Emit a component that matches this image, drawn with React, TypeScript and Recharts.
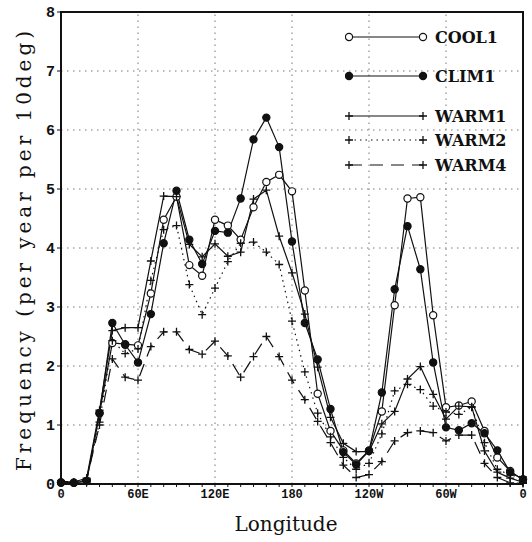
import { LineChart, Line, XAxis, YAxis, ReferenceLine, ReferenceArea, Legend, Label } from 'recharts'

const longitudes = [0, 10, 20, 30, 40, 50, 60, 70, 80, 90, 100, 110, 120, 130, 140, 150, 160, 170, 180,
  190, 200, 210, 220, 230, 240, 250, 260, 270, 280, 290, 300, 310, 320, 330, 340, 350, 360]

const cool1 = [0.03, 0.02, 0.05, 1.2, 2.39, 2.37, 2.35, 3.23, 4.48, 4.87, 3.71, 3.53, 4.48, 4.38, 4.14, 4.69, 5.12, 5.24, 4.96,
  3.28, 1.53, 0.9, 0.57, 0.35, 0.57, 1.23, 3.03, 4.84, 4.86, 2.86, 1.3, 1.33, 1.4, 0.9, 0.45, 0.22, 0.07]
const clim1 = [0.02, 0.02, 0.05, 1.2, 2.73, 2.36, 2.06, 2.88, 4.08, 4.97, 4.14, 3.73, 4.29, 4.26, 4.84, 5.84, 6.21, 5.71, 4.11,
  2.73, 2.11, 1.27, 0.54, 0.33, 0.56, 1.55, 3.3, 4.37, 3.64, 2.06, 0.96, 0.91, 1.03, 0.86, 0.57, 0.2, 0.08]
const warm1 = [0.05, 0.03, 0.1, 1.25, 2.6, 2.65, 2.65, 3.78, 4.88, 4.87, 4.06, 3.85, 4.07, 3.86, 3.93, 4.83, 4.98, 4.2, 3.58,
  2.88, 1.98, 1.13, 0.69, 0.55, 0.55, 1.02, 1.23, 1.78, 1.99, 1.52, 1.1, 1.32, 1.31, 0.56, 0.2, 0.1, 0.03]
const warm2 = [0.05, 0.03, 0.08, 1.05, 2.43, 2.21, 2.29, 3.45, 4.31, 4.38, 3.38, 2.87, 3.32, 3.77, 4.08, 4.1, 3.93, 3.72, 2.76,
  1.9, 1.2, 0.8, 0.45, 0.25, 0.35, 0.85, 1.58, 1.69, 1.6, 1.32, 1.22, 1.18, 1.3, 0.7, 0.25, 0.15, 0.12]
const warm4 = [0.03, 0.02, 0.08, 1.0, 2.12, 1.81, 1.76, 2.33, 2.58, 2.58, 2.28, 2.2, 2.42, 2.17, 1.81, 2.16, 2.5, 2.16, 1.76,
  1.43, 1.06, 0.7, 0.32, 0.11, 0.16, 0.38, 0.73, 0.87, 0.9, 0.87, 0.73, 0.83, 0.83, 0.35, 0.11, 0.02, 0.01]

const xMajorTicks = [0, 60, 120, 180, 240, 300, 360]
const xTickLabels = ['0', '60E', '120E', '180', '120W', '60W', '0']
const yTicks = [0, 1, 2, 3, 4, 5, 6, 7, 8]

const data = longitudes.map((lon, i) => ({
  lon, cool1: cool1[i], clim1: clim1[i], warm1: warm1[i], warm2: warm2[i], warm4: warm4[i],
}))

const INK = '#111'
const mono = '"Liberation Mono", "DejaVu Sans Mono", monospace'
const serif = '"DejaVu Serif", "Liberation Serif", serif'

type Marker = 'open' | 'filled' | 'plus'
const series: { key: string; name: string; marker: Marker; dash?: string }[] = [
  { key: 'cool1', name: 'COOL1', marker: 'open' },
  { key: 'clim1', name: 'CLIM1', marker: 'filled' },
  { key: 'warm1', name: 'WARM1', marker: 'plus' },
  { key: 'warm2', name: 'WARM2', marker: 'plus', dash: '1.5 4' },
  { key: 'warm4', name: 'WARM4', marker: 'plus', dash: '13 8' },
]

function markerShape(kind: Marker, cx: number, cy: number, key?: number | string) {
  if (kind === 'plus') {
    return <path key={key} d={`M${cx - 4},${cy}H${cx + 4}M${cx},${cy - 4}V${cy + 4}`} stroke={INK} strokeWidth={1.3} fill="none" />
  }
  return <circle key={key} cx={cx} cy={cy} r={3.6} fill={kind === 'filled' ? INK : '#fff'} stroke={INK} strokeWidth={1.2} />
}

const legendRows = [37, 76, 116, 140, 165]

function LegendBox() {
  return (
    <svg width={180} height={185}>
      {series.map((s, i) => {
        const y = legendRows[i]
        return (
          <g key={s.key}>
            <line x1={4} y1={y} x2={78} y2={y} stroke={INK} strokeWidth={1.2} strokeDasharray={s.dash} />
            {markerShape(s.marker, 4, y)}
            {markerShape(s.marker, 78, y)}
            <text x={90} y={y + 6} fontFamily={serif} fontWeight="bold" fontSize={16} fill={INK}>{s.name}</text>
          </g>
        )
      })}
    </svg>
  )
}

export default function App() {
  return (
    <div style={{ position: 'absolute', left: 0, top: 0, background: '#fff' }}>
      <LineChart width={532} height={542} data={data} margin={{ top: 12, right: 9, bottom: 28, left: 0 }}>
        {xMajorTicks.slice(1, -1).map(v => (
          <ReferenceLine key={'gx' + v} x={v} stroke="#777" strokeDasharray="1.5 4.5" />
        ))}
        {yTicks.slice(1, -1).map(v => (
          <ReferenceLine key={'gy' + v} y={v} stroke="#777" strokeDasharray="1.5 4.5" />
        ))}
        <XAxis
          dataKey="lon" type="number" domain={[0, 360]} ticks={longitudes} interval={0}
          tickFormatter={(v: number) => { const i = xMajorTicks.indexOf(v); return i >= 0 ? xTickLabels[i] : '' }}
          tick={{ fontFamily: mono, fontWeight: 'bold', fontSize: 12, fill: INK }}
          tickSize={3} tickMargin={2} height={30}
          axisLine={{ stroke: INK, strokeWidth: 2 }} tickLine={{ stroke: INK }}
        >
          <Label content={() => (
            <text x={286} y={531} textAnchor="middle" fontFamily={serif} fontSize={20} fill={INK}>Longitude</text>
          )} />
        </XAxis>
        <YAxis
          type="number" domain={[0, 8]} ticks={yTicks} interval={0} width={61}
          tick={{ fontFamily: mono, fontWeight: 'bold', fontSize: 15, fill: INK }}
          tickSize={4} tickMargin={2}
          axisLine={{ stroke: INK, strokeWidth: 2 }} tickLine={{ stroke: INK }}
        >
          <Label content={() => (
            <text x={24} y={251} transform="rotate(-90 24 251)" textAnchor="middle" dominantBaseline="central"
              fontFamily={serif} fontSize={20} textLength={440} lengthAdjust="spacing" fill={INK}>
              Frequency (per year per 10deg)
            </text>
          )} />
        </YAxis>
        <ReferenceArea x1={0} x2={360} y1={0} y2={8} fill="none" stroke={INK} strokeWidth={2} ifOverflow="visible" />
        {series.map(s => (
          <Line
            key={s.key} dataKey={s.key} name={s.name} type="linear" stroke={INK} strokeWidth={1.2}
            strokeDasharray={s.dash} isAnimationActive={false} activeDot={false}
            dot={(p: any) => markerShape(s.marker, p.cx, p.cy, p.index)}
          />
        ))}
        <Legend
          layout="horizontal" verticalAlign="middle" align="center"
          wrapperStyle={{ top: 0, left: 345, width: 180, height: 185 }}
          content={() => <LegendBox />}
        />
      </LineChart>
    </div>
  )
}
